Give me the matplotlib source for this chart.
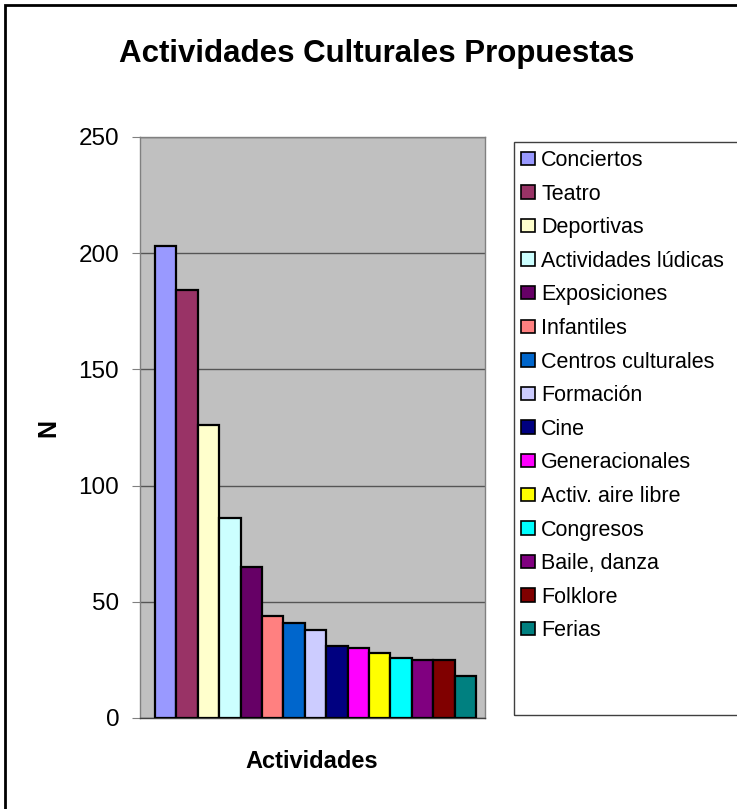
import matplotlib.pyplot as plt
from matplotlib.patches import Rectangle, Patch

plt.rcParams["font.family"] = ["Liberation Sans", "DejaVu Sans"]

actividades = ["Conciertos", "Teatro", "Deportivas", "Actividades lúdicas",
               "Exposiciones", "Infantiles", "Centros culturales", "Formación",
               "Cine", "Generacionales", "Activ. aire libre", "Congresos",
               "Baile, danza", "Folklore", "Ferias"]
n_values = [203, 184, 126, 86, 65, 44, 41, 38, 31, 30, 28, 26, 25, 25, 18]
colores = ["#9999FF", "#993366", "#FFFFCC", "#CCFFFF", "#660066", "#FF8080",
           "#0066CC", "#CCCCFF", "#000080", "#FF00FF", "#FFFF00", "#00FFFF",
           "#800080", "#800000", "#008080"]
y_ticks = [0, 50, 100, 150, 200, 250]

W, H = 737, 809
fig = plt.figure(figsize=(W / 100, H / 100), dpi=100)
ax = fig.add_axes([140 / W, 1 - 718 / H, 345 / W, 581 / H])

ax.set_facecolor("#C0C0C0")
for i, (v, c) in enumerate(zip(n_values, colores)):
    ax.bar(i, v, width=1.0, color=c, edgecolor="black", linewidth=1.6,
           zorder=3, label=actividades[i])

ax.set_ylim(0, 250)
ax.set_xlim(-1.2, 14.92)
ax.set_yticks(y_ticks)
ax.set_xticks([])
ax.yaxis.grid(True, color="#555555", linewidth=1.0, zorder=1)
ax.tick_params(axis="y", labelsize=17.5, length=6, color="#808080", pad=9)
for s in ax.spines.values():
    s.set_color("#808080")
    s.set_linewidth(1.0)
ax.spines["bottom"].set_color("#404040")

# etiquetas de ejes
fig.text(48 / W, 1 - 428 / H, "N", rotation=90, ha="center", va="center",
         fontsize=18, fontweight="bold")
fig.text(312 / W, 1 - 761 / H, "Actividades", ha="center", va="center",
         fontsize=17, fontweight="bold")

fig.text(377 / W, 1 - 54 / H, "Actividades Culturales Propuestas",
         ha="center", va="center", fontsize=22.5, fontweight="bold")

# leyenda: marco propio que sale por el borde derecho
fig.patches.append(Rectangle((514 / W, 1 - 715 / H), 240 / W, 573 / H,
                             transform=fig.transFigure, fill=False,
                             edgecolor="#404040", linewidth=1.0))
handles = [Patch(facecolor=c, edgecolor="black", linewidth=1.2) for c in colores]
leg = fig.legend(handles, actividades, loc="upper left",
                 bbox_to_anchor=(521 / W, 1 - 150 / H), fontsize=15.5,
                 frameon=False, handlelength=0.65, handleheight=0.58,
                 handletextpad=0.28, labelspacing=0.585, borderpad=0,
                 borderaxespad=0)

fig.patches.append(Rectangle((5 / W, -0.01), 1.0, 1.01 - 5 / H,
                             transform=fig.transFigure, fill=False,
                             edgecolor="black", linewidth=2.0))

fig.savefig("out.png", dpi=100)
